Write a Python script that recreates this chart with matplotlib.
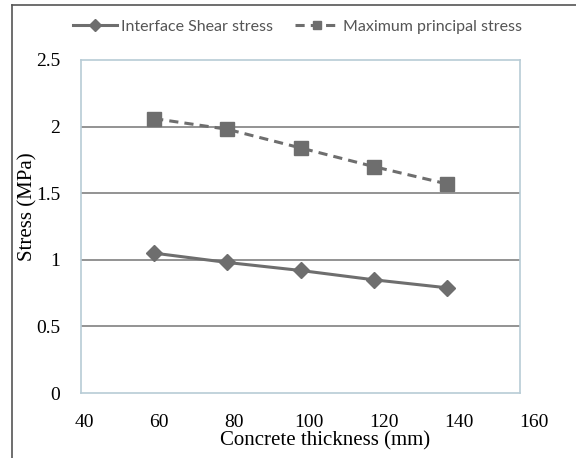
import matplotlib
matplotlib.use("Agg")
import matplotlib.pyplot as plt
from matplotlib.lines import Line2D

# Concrete thickness (mm) vs stress (MPa)
thickness = [60, 80, 100, 120, 140]
shear_stress = [1.05, 0.98, 0.92, 0.85, 0.79]
principal_stress = [2.06, 1.98, 1.84, 1.70, 1.57]

xticks = [40, 60, 80, 100, 120, 140, 160]
yticks = [0, 0.5, 1, 1.5, 2, 2.5]
ytick_labels = ["0", "0.5", "1", "1.5", "2", "2.5"]

W, H = 576, 458
fig = plt.figure(figsize=(W / 100, H / 100), dpi=100)

serif = "Liberation Serif"
line_col = "#6e6e6e"

# plot area in pixels
left, right, top, bottom = 81, 520, 60, 393
ax = fig.add_axes([left / W, 1 - bottom / H, (right - left) / W, (bottom - top) / H])

ax.plot(thickness, shear_stress, color=line_col, lw=2.2, marker="D", ms=8,
        mfc=line_col, mec=line_col, label="Interface Shear stress")
ax.plot(thickness, principal_stress, color=line_col, lw=2.2, ls=(0, (3, 2)),
        marker="s", ms=10, mfc=line_col, mec=line_col,
        label="Maximum principal stress")

ax.set_xlim(40, 160)
ax.set_ylim(0, 2.5)
ax.set_yticks(yticks)
ax.set_yticklabels(ytick_labels, fontfamily=serif, fontsize=14)
ax.set_xticks([])
ax.tick_params(axis="y", length=0, pad=15)
for y in yticks[1:-1]:
    ax.axhline(y, color="#8a8a8a", lw=1.3, zorder=0)
for s in ax.spines.values():
    s.set_color("#b8ccd6")
    s.set_linewidth(1.2)

ax.set_ylabel("Stress (MPa)", fontfamily=serif, fontsize=15)
ax.yaxis.set_label_coords(-0.098, 0.56)

# x tick labels sit slightly wider than the plot frame in the original
ax2 = fig.add_axes([84 / W, 1 - bottom / H, 450 / W, 0.0001])
ax2.set_xlim(40, 160)
ax2.set_xticks(xticks)
ax2.set_xticklabels([str(v) for v in xticks], fontfamily=serif, fontsize=14)
ax2.tick_params(axis="x", length=0, pad=15)
ax2.set_yticks([])
ax2.patch.set_visible(False)
for s in ax2.spines.values():
    s.set_visible(False)
ax2.set_xlabel("Concrete thickness (mm)", fontfamily=serif, fontsize=15)
ax2.xaxis.set_label_coords(325 / W, 1 - 431 / H, transform=fig.transFigure)

leg = fig.legend(loc="center", bbox_to_anchor=(0.516, 1 - 27 / H), ncol=2,
                 frameon=False, handlelength=2.8, columnspacing=1.4,
                 handletextpad=0.2,
                 prop={"family": "Lato", "size": 11.5})
for t in leg.get_texts():
    t.set_color("#555555")
for h in leg.legend_handles:
    h.set_markersize(6)

# outer frame lines of the figure
fig.add_artist(Line2D([12 / W, 12 / W], [0, 1 - 5 / H], color="#555555", lw=1.2))
fig.add_artist(Line2D([12 / W, 1], [1 - 5 / H, 1 - 5 / H], color="#555555", lw=1.2))

fig.savefig("out.png", dpi=100)
